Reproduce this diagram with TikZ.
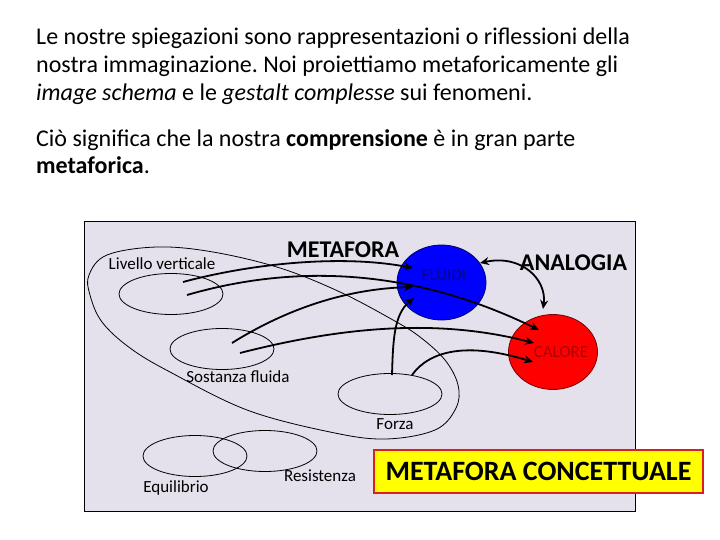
\documentclass[tikz,border=0pt]{standalone}
\usepackage{fontspec}
\setmainfont{Carlito}
\usetikzlibrary{shapes.geometric,arrows.meta}
\definecolor{panel}{RGB}{228,225,236}
\definecolor{navytxt}{RGB}{10,10,110}
\definecolor{redtxt}{RGB}{170,0,0}
\frenchspacing
\tikzset{
  para/.style={anchor=base west, inner sep=0pt, font=\fontsize{24}{28}\selectfont},
  lbl/.style={inner sep=0pt, font=\fontsize{17}{20}\selectfont},
  schema/.style={ellipse, draw=black, line width=0.8pt, minimum width=104pt, minimum height=41pt, inner sep=0pt},
  concept/.style={ellipse, line width=0.8pt, minimum width=89pt, minimum height=75pt, inner sep=0pt},
  link/.style={line width=1.8pt, -{Stealth[length=9pt,width=8pt]}},
}
\begin{document}
\begin{tikzpicture}[x=1pt,y=-1pt]
\useasboundingbox (0,0) rectangle (720,540);
% paragraph
\node[para] (p1) at (36,45) {Le nostre spiegazioni sono rappresentazioni o riflessioni della};
\node[para] (p2) at (36,73) {nostra immaginazione. Noi proiettiamo metaforicamente gli};
\node[para] (p3) at (36,101) {\textit{image schema} e le \textit{gestalt complesse} sui fenomeni.};
\node[para] (p4) at (36,147) {Ciò significa che la nostra \textbf{comprensione} è in gran parte};
\node[para] (p5) at (36,174) {\textbf{metaforica}.};
% panel
\draw[fill=panel, draw=black, line width=0.8pt] (84,221) rectangle (635,511);
% enclosing loop
\draw[line width=0.8pt] plot[smooth cycle, tension=0.6] coordinates {
 (157,247) (107,255) (89,275) (90,295) (102,322) (130,348) (170,372) (247,410)
 (330,432) (385,439) (435,430) (456,408) (458,385) (445,360) (420,337) (393,320)
 (340,292) (280,268) (213,252)};
% schemas
\node[schema] (lv) at (171,294) {};
\node[schema] (sf) at (222,349) {};
\node[schema] (fo) at (390,394) {};
\node[schema] (eq) at (195,456) {};
\node[schema] (re) at (265,451) {};
% concepts
\node[concept, fill={rgb,255:red,0;green,0;blue,255}, draw={rgb,255:red,0;green,0;blue,110}] (fl) at (441.5,282.5) {};
\node[concept, fill={rgb,255:red,255;green,0;blue,0}, draw={rgb,255:red,120;green,0;blue,0}] (ca) at (553,352) {};
\node[lbl, text=navytxt] (flt) at (444,275) {FLUIDI};
\node[lbl, text=redtxt] (cat) at (561,352) {CALORE};
% connector ends
\coordinate (a1s) at (183,282); \coordinate (a1e) at (413,268);
\coordinate (a2s) at (187,295); \coordinate (a2e) at (539,330);
\coordinate (a3s) at (232,343); \coordinate (a3e) at (413,287);
\coordinate (a4s) at (240,353); \coordinate (a4e) at (534,343);
\coordinate (a5s) at (392,375); \coordinate (a5e) at (414,298);
\coordinate (a6s) at (412,375); \coordinate (a6e) at (533,362);
\coordinate (anA) at (480,263); \coordinate (anB) at (543,309);
% metaphor links
\draw[link] (a1s) .. controls (250,264) and (340,254) .. (a1e);
\draw[link] (a2s) .. controls (280,268) and (400,262) .. (a2e);
\draw[link] (a3s) .. controls (280,313) and (340,289) .. (a3e);
\draw[link] (a4s) .. controls (330,330) and (430,316) .. (a4e);
\draw[link] (a5s) .. controls (393,340) and (394,314) .. (a5e);
\draw[link] (a6s) .. controls (430,350) and (468,342) .. (a6e);
% analogy
\draw[line width=1.8pt, {Stealth[length=9pt,width=8pt]}-{Stealth[length=9pt,width=8pt]}] (anA) .. controls (522,254) and (547,280) .. (anB);
% labels
\node[lbl] (lvt) at (162,264) {Livello verticale};
\node[lbl] (sft) at (238,377) {Sostanza fluida};
\node[lbl] (fot) at (395,424) {Forza};
\node[lbl] (eqt) at (176,488) {Equilibrio};
\node[lbl] (ret) at (320,476) {Resistenza};
\node[inner sep=0pt, anchor=base, font=\fontsize{24}{28}\selectfont\bfseries] (met) at (343,258) {METAFORA};
\node[inner sep=0pt, anchor=base, font=\fontsize{24}{28}\selectfont\bfseries] (ana) at (573.5,270) {ANALOGIA};
\node[draw={rgb,255:red,220;green,30;blue,30}, line width=2.5pt, fill={rgb,255:red,255;green,255;blue,0}, minimum width=329pt, minimum height=43pt, inner sep=0pt, font=\fontsize{28}{32}\selectfont\bfseries] (mc) at (538.5,471.5) {METAFORA CONCETTUALE};
\end{tikzpicture}
\end{document}
